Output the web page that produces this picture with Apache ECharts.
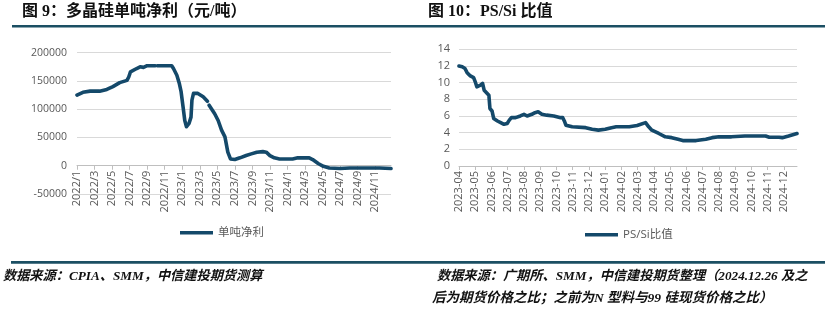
<!DOCTYPE html>
<html>
<head>
<meta charset="utf-8">
<script src="https://cdn.jsdelivr.net/npm/echarts@6/dist/echarts.min.js"></script>
<style>
  html, body { margin: 0; padding: 0; background: #ffffff; }
  #chart { width: 830px; height: 322px; }
</style>
</head>
<body>
<div id="chart"></div>
<script>
// 多晶硅单吨净利（元/吨），2022/1 – 2024/12；null 表示缺口
const profitDates = [
  '2022-01-01','2022-01-22','2022-02-15','2022-03-07','2022-03-19','2022-04-13','2022-05-04','2022-05-28',
  '2022-06-22','2022-06-28','2022-07-04','2022-07-26','2022-08-07','2022-08-19','2022-09-01','2022-09-22',
  '2022-09-29','2022-10-03','2022-10-06','2022-10-13','2022-11-25','2022-12-01','2022-12-13','2022-12-22',
  '2022-12-28','2023-01-04','2023-01-10','2023-01-16','2023-01-25','2023-02-01','2023-02-04','2023-02-09',
  '2023-02-23','2023-03-13','2023-03-28','2023-03-31','2023-04-03','2023-04-22','2023-05-04','2023-05-16',
  '2023-05-28','2023-06-07','2023-06-16','2023-07-01','2023-07-19','2023-08-10','2023-08-28','2023-09-16',
  '2023-10-07','2023-10-19','2023-11-01','2023-11-16','2023-12-04','2024-01-19','2024-02-06','2024-03-16',
  '2024-03-28','2024-04-16','2024-05-04','2024-05-25','2024-07-01','2024-08-04','2024-10-01','2024-11-16',
  '2024-12-26'
];
const profitValues = [
  125000, 130000, 132000, 132000, 132000, 135000, 140000, 147000,
  151000, 157000, 166000, 172000, 175000, 174000, 177000, 177000,
  177000, null, 177000, 177000, 177000, 172000, 160000, 145000,
  131000, 104000, 80000, 69000, 75000, 86000, 116000, 128000,
  128000, 122000, 114000, null, 107000, 92000, 80000, 63000,
  51000, 24000, 12000, 11000, 14000, 18000, 21000, 24000,
  25000, 24000, 18000, 14000, 12000, 12000, 14000, 14000,
  11000, 4000, -1000, -4000, -5000, -4000, -4000, -4000,
  -5000
];
const profitTicks = { min: -50000, max: 200000, interval: 50000 };

// PS/Si 比值，2023-04 – 2024-12
const ratioDates = [
  '2023-04-01','2023-04-07','2023-04-12','2023-04-16','2023-04-22','2023-04-28','2023-05-01','2023-05-04',
  '2023-05-07','2023-05-11','2023-05-15','2023-05-18','2023-05-21','2023-05-27','2023-05-29','2023-06-02',
  '2023-06-05','2023-06-12','2023-06-18','2023-06-24','2023-06-30','2023-07-04','2023-07-08','2023-07-16',
  '2023-07-25','2023-08-01','2023-08-07','2023-08-16','2023-08-22','2023-08-28','2023-09-04','2023-09-13',
  '2023-09-26','2023-10-09','2023-10-13','2023-10-16','2023-10-19','2023-10-31','2023-11-25','2023-12-07',
  '2023-12-19','2024-01-01','2024-01-13','2024-01-22','2024-02-15','2024-02-29','2024-03-16','2024-03-22',
  '2024-03-28','2024-04-10','2024-04-22','2024-05-04','2024-05-16','2024-05-25','2024-06-19','2024-07-07',
  '2024-07-19','2024-08-01','2024-08-25','2024-09-19','2024-10-28','2024-11-04','2024-11-22','2024-11-28',
  '2024-12-10','2024-12-26'
];
const ratioValues = [
  12.0, 11.9, 11.7, 11.2, 10.8, 10.6, 10.1, 9.5,
  9.3, 9.7, 9.9, 9.1, 8.9, 8.5, 6.9, 6.6,
  5.7, 5.4, 5.2, 5.0, 5.1, 5.5, 5.8, 5.8,
  6.0, 6.2, 6.0, 6.2, 6.4, 6.5, 6.2, 6.1,
  6.0, 5.8, 5.8, 5.4, 4.9, 4.7, 4.6, 4.4,
  4.3, 4.4, 4.6, 4.7, 4.7, 4.85, 5.2, 4.7,
  4.3, 3.9, 3.5, 3.4, 3.2, 3.05, 3.05, 3.2,
  3.4, 3.5, 3.5, 3.6, 3.6, 3.45, 3.45, 3.4,
  3.6, 3.9
];
const ratioTicks = { min: 0, max: 14, interval: 2 };

const profitStart = { year: 2022, month: 1 };
const ratioStart = { year: 2023, month: 4 };

// 日期 -> 距起始月份的月数（含月内小数）
function monthOffset(dateStr, start) {
  const [y, m, d] = dateStr.split('-').map(Number);
  const days = new Date(y, m, 0).getDate();
  return (y - start.year) * 12 + (m - start.month) + (d - 1) / days;
}
function toPoints(dates, values, start) {
  return dates.map((d, i) => [monthOffset(d, start), values[i] === null ? '-' : values[i]]);
}
function monthLabel(v, start, sep, pad) {
  const idx = start.month - 1 + Math.round(v);
  const y = start.year + Math.floor(idx / 12);
  const m = idx % 12 + 1;
  return y + sep + (pad && m < 10 ? '0' + m : m);
}

const profitData = toPoints(profitDates, profitValues, profitStart);
const ratioData = toPoints(ratioDates, ratioValues, ratioStart);
const profitEnd = profitData[profitData.length - 1][0];
const ratioEnd = ratioData[ratioData.length - 1][0];

const lineColor = '#14496a';
const ruleColor = '#1b4f63';
const gridColor = '#d9d9d9';
const labelColor = '#595959';
const labelFont = '"Open Sans", "Noto Sans CJK SC", sans-serif';
const titleFont = '"Liberation Serif", "Noto Sans CJK SC", serif';

// 左图网格；横轴上移到 0 值线
const leftGrid = { left: 77, right: 439, top: 52.7, bottom: 128 };
const leftGridHeight = 322 - leftGrid.top - leftGrid.bottom;
const zeroShift = leftGridHeight * (0 - profitTicks.min) / (profitTicks.max - profitTicks.min);

const chart = echarts.init(document.getElementById('chart'), null, { renderer: 'canvas' });

chart.setOption({
  animation: false,
  backgroundColor: '#ffffff',
  grid: [
    leftGrid,
    { left: 459, right: 33, top: 49.3, bottom: 156 }
  ],
  xAxis: [
    {
      gridIndex: 0, type: 'value', min: 0, max: profitEnd, interval: 2,
      position: 'bottom', offset: -zeroShift,
      axisLine: { onZero: false, lineStyle: { color: '#bfbfbf', width: 1 } },
      axisTick: { show: true, length: 4, lineStyle: { color: '#bfbfbf' } },
      splitLine: { show: false },
      axisLabel: {
        rotate: 90, margin: 5, color: labelColor, fontSize: 11, fontFamily: labelFont,
        showMaxLabel: false,
        formatter: v => monthLabel(v, profitStart, '/', false)
      }
    },
    {
      gridIndex: 1, type: 'value', min: 0, max: ratioEnd, interval: 1,
      position: 'bottom',
      axisLine: { onZero: false, lineStyle: { color: '#bfbfbf', width: 1 } },
      axisTick: { show: true, length: 4, lineStyle: { color: '#bfbfbf' } },
      splitLine: { show: false },
      axisLabel: {
        rotate: 90, margin: 5, color: labelColor, fontSize: 11, fontFamily: labelFont,
        showMaxLabel: false,
        formatter: v => monthLabel(v, ratioStart, '-', true)
      }
    }
  ],
  yAxis: [
    {
      gridIndex: 0, type: 'value',
      min: profitTicks.min, max: profitTicks.max, interval: profitTicks.interval,
      axisLine: { show: false, onZero: false }, axisTick: { show: false },
      splitLine: { lineStyle: { color: gridColor, width: 1 } },
      axisLabel: { color: labelColor, fontSize: 10.5, fontFamily: labelFont, margin: 10, formatter: v => String(v) }
    },
    {
      gridIndex: 1, type: 'value',
      min: ratioTicks.min, max: ratioTicks.max, interval: ratioTicks.interval,
      axisLine: { show: false, onZero: false }, axisTick: { show: false },
      splitLine: { lineStyle: { color: gridColor, width: 1 } },
      axisLabel: { color: labelColor, fontSize: 11, fontFamily: labelFont, margin: 9 }
    }
  ],
  legend: [
    {
      data: ['单吨净利'], left: 175, top: 222, padding: 5, icon: 'rect', itemWidth: 33, itemHeight: 3.5, itemGap: 5,
      textStyle: { color: labelColor, fontSize: 11.5, fontFamily: labelFont }
    },
    {
      data: ['PS/Si比值'], left: 580, top: 224, padding: 5, icon: 'rect', itemWidth: 33, itemHeight: 3.5, itemGap: 5,
      textStyle: { color: labelColor, fontSize: 11.5, fontFamily: labelFont }
    }
  ],
  series: [
    {
      name: '单吨净利', type: 'line', xAxisIndex: 0, yAxisIndex: 0,
      data: profitData, showSymbol: false, symbol: 'none', connectNulls: false,
      lineStyle: { color: lineColor, width: 3.6, cap: 'round', join: 'round' },
      itemStyle: { color: lineColor }
    },
    {
      name: 'PS/Si比值', type: 'line', xAxisIndex: 1, yAxisIndex: 1,
      data: ratioData, showSymbol: false, symbol: 'none',
      lineStyle: { color: lineColor, width: 3.6, cap: 'round', join: 'round' },
      itemStyle: { color: lineColor }
    }
  ],
  graphic: [
    // 标题
    { type: 'text', left: 22, top: 4, style: { text: '图 9：多晶硅单吨净利（元/吨）', fill: '#111', font: 'bold 16px ' + titleFont } },
    { type: 'text', left: 428, top: 4, style: { text: '图 10：PS/Si 比值', fill: '#111', font: 'bold 16px ' + titleFont } },
    // 标题下方分隔线
    { type: 'rect', shape: { x: 12, y: 25, width: 813, height: 2.5 }, style: { fill: ruleColor } },
    // 来源上方分隔线
    { type: 'rect', shape: { x: 11, y: 261, width: 814, height: 2.7 }, style: { fill: ruleColor } },
    // 数据来源
    { type: 'text', left: 3, top: 270, style: { text: '数据来源：CPIA、SMM，中信建投期货测算', fill: '#111', font: 'italic bold 13.2px ' + titleFont } },
    { type: 'text', left: 437, top: 270, style: { text: '数据来源：广期所、SMM，中信建投期货整理（2024.12.26 及之', fill: '#111', font: 'italic bold 13.2px ' + titleFont } },
    { type: 'text', left: 432, top: 292, style: { text: '后为期货价格之比；之前为N 型料与99 硅现货价格之比）', fill: '#111', font: 'italic bold 13.5px ' + titleFont } }
  ]
});
</script>
</body>
</html>
